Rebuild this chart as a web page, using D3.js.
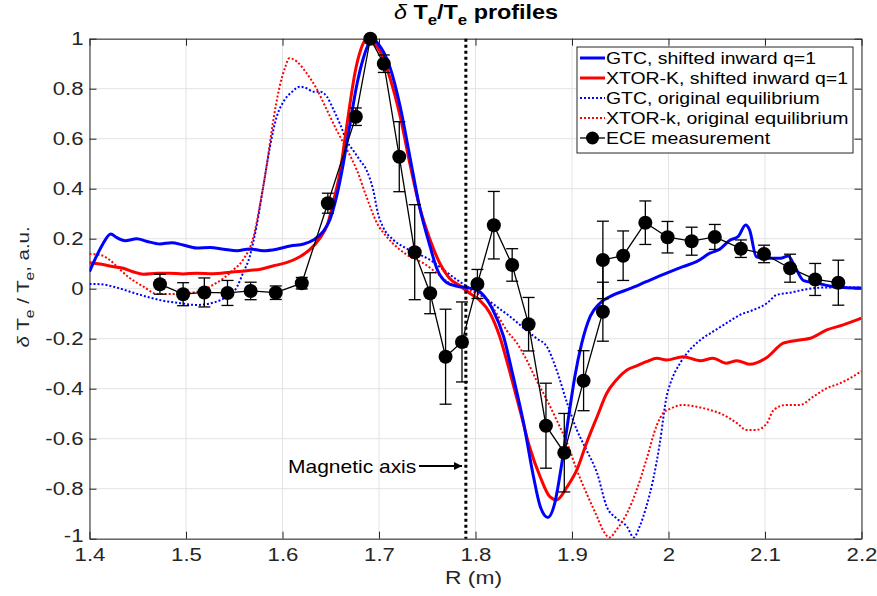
<!DOCTYPE html>
<html>
<head>
<meta charset="utf-8">
<script src="https://cdn.jsdelivr.net/npm/d3@7"></script>
<style>
  html, body { margin: 0; padding: 0; background: #fff; }
  svg { display: block; font-family: "Liberation Sans", Arial, Helvetica, sans-serif; }
</style>
</head>
<body>
<svg id="chart" width="877" height="596"></svg>
<script>
// ---------------- DATA ----------------
const xTicks = [1.4, 1.5, 1.6, 1.7, 1.8, 1.9, 2.0, 2.1, 2.2];
const xTickLabels = ["1.4", "1.5", "1.6", "1.7", "1.8", "1.9", "2", "2.1", "2.2"];
const yTicks = [-1, -0.8, -0.6, -0.4, -0.2, 0, 0.2, 0.4, 0.6, 0.8, 1];
const yTickLabels = ["-1", "-0.8", "-0.6", "-0.4", "-0.2", "0", "0.2", "0.4", "0.6", "0.8", "1"];

const seriesNames = [
  "GTC, shifted inward q=1",
  "XTOR-K, shifted inward q=1",
  "GTC, original equilibrium",
  "XTOR-k, original equilibrium",
  "ECE measurement"
];

// GTC, shifted inward q=1  [R, dTe/Te]
const gtcShifted = [
  [1.400,0.068],[1.407,0.128],[1.414,0.180],[1.422,0.219],[1.428,0.205],[1.437,0.192],
  [1.449,0.200],[1.459,0.190],[1.473,0.179],[1.485,0.184],[1.497,0.175],[1.511,0.163],
  [1.525,0.165],[1.539,0.158],[1.553,0.152],[1.566,0.159],[1.580,0.152],[1.594,0.158],
  [1.608,0.171],[1.622,0.179],[1.632,0.195],[1.642,0.228],[1.649,0.275],[1.656,0.368],
  [1.663,0.500],[1.670,0.660],[1.677,0.815],[1.684,0.925],[1.690,0.985],[1.694,1.000],
  [1.699,0.980],[1.705,0.945],[1.711,0.890],[1.722,0.728],[1.732,0.528],[1.742,0.328],
  [1.753,0.168],[1.760,0.080],[1.770,0.025],[1.781,0.010],[1.791,0.004],[1.801,-0.005],
  [1.808,-0.025],[1.818,-0.085],[1.829,-0.190],[1.839,-0.350],[1.850,-0.540],[1.860,-0.750],
  [1.867,-0.870],[1.875,-0.915],[1.882,-0.860],[1.889,-0.710],[1.896,-0.525],[1.903,-0.350],
  [1.910,-0.220],[1.919,-0.110],[1.929,-0.058],[1.943,-0.025],[1.960,0.000],[1.977,0.028],
  [1.998,0.062],[2.015,0.088],[2.029,0.108],[2.043,0.142],[2.053,0.158],[2.064,0.195],
  [2.072,0.208],[2.080,0.255],[2.084,0.235],[2.091,0.128],[2.102,0.122],[2.116,0.122],
  [2.124,0.131],[2.131,0.088],[2.140,0.032],[2.154,0.022],[2.171,0.008],[2.185,0.004],
  [2.200,0.003]
];

// XTOR-K, shifted inward q=1
const xtorShifted = [
  [1.400,0.104],[1.411,0.099],[1.425,0.088],[1.435,0.082],[1.445,0.068],[1.456,0.058],
  [1.470,0.062],[1.483,0.062],[1.497,0.059],[1.511,0.062],[1.528,0.060],[1.546,0.066],
  [1.563,0.072],[1.577,0.078],[1.590,0.091],[1.604,0.104],[1.618,0.128],[1.628,0.155],
  [1.638,0.198],[1.647,0.262],[1.654,0.368],[1.660,0.475],[1.665,0.608],[1.670,0.742],
  [1.675,0.862],[1.681,0.955],[1.685,0.990],[1.689,1.000],[1.694,0.985],[1.701,0.950],
  [1.711,0.848],[1.722,0.688],[1.732,0.500],[1.742,0.328],[1.753,0.195],[1.763,0.102],
  [1.773,0.042],[1.784,0.011],[1.794,-0.018],[1.804,-0.045],[1.815,-0.098],[1.825,-0.190],
  [1.835,-0.325],[1.846,-0.485],[1.856,-0.632],[1.867,-0.752],[1.877,-0.832],[1.884,-0.845],
  [1.895,-0.792],[1.905,-0.725],[1.915,-0.618],[1.926,-0.512],[1.936,-0.418],[1.946,-0.365],
  [1.957,-0.325],[1.967,-0.309],[1.977,-0.292],[1.988,-0.278],[1.998,-0.285],[2.015,-0.272],
  [2.033,-0.288],[2.046,-0.278],[2.060,-0.298],[2.071,-0.288],[2.084,-0.302],[2.102,-0.275],
  [2.119,-0.218],[2.136,-0.205],[2.147,-0.198],[2.164,-0.165],[2.181,-0.145],[2.200,-0.118]
];

// GTC, original equilibrium
const gtcOriginal = [
  [1.400,0.019],[1.411,0.018],[1.425,0.008],[1.442,-0.012],[1.459,-0.032],[1.476,-0.048],
  [1.494,-0.058],[1.511,-0.065],[1.528,-0.056],[1.542,-0.032],[1.553,0.008],[1.559,0.062],
  [1.566,0.128],[1.573,0.248],[1.580,0.408],[1.587,0.568],[1.594,0.688],[1.601,0.748],
  [1.610,0.788],[1.618,0.808],[1.625,0.802],[1.632,0.788],[1.639,0.788],[1.646,0.768],
  [1.653,0.715],[1.660,0.655],[1.667,0.588],[1.673,0.555],[1.680,0.515],[1.687,0.475],
  [1.694,0.395],[1.699,0.300],[1.704,0.248],[1.715,0.195],[1.725,0.168],[1.739,0.142],
  [1.753,0.115],[1.767,0.075],[1.781,0.035],[1.794,0.002],[1.808,-0.032],[1.822,-0.072],
  [1.836,-0.112],[1.850,-0.158],[1.863,-0.198],[1.874,-0.232],[1.884,-0.325],[1.895,-0.458],
  [1.905,-0.565],[1.915,-0.645],[1.926,-0.738],[1.936,-0.872],[1.946,-0.918],[1.957,-0.952],
  [1.964,-0.995],[1.970,-0.952],[1.977,-0.872],[1.984,-0.765],[1.991,-0.618],[1.998,-0.432],
  [2.002,-0.378],[2.012,-0.298],[2.022,-0.245],[2.033,-0.205],[2.046,-0.172],[2.060,-0.138],
  [2.074,-0.105],[2.088,-0.085],[2.102,-0.058],[2.112,-0.025],[2.126,-0.016],[2.143,-0.002],
  [2.164,0.005],[2.185,0.005],[2.200,0.005]
];

// XTOR-k, original equilibrium
const xtorOriginal = [
  [1.400,0.139],[1.411,0.135],[1.421,0.115],[1.432,0.075],[1.442,0.042],[1.456,0.008],
  [1.470,-0.021],[1.483,-0.021],[1.501,-0.018],[1.518,-0.005],[1.528,0.015],[1.539,0.042],
  [1.549,0.075],[1.559,0.115],[1.570,0.208],[1.577,0.342],[1.584,0.502],[1.590,0.662],
  [1.597,0.808],[1.603,0.888],[1.607,0.922],[1.615,0.908],[1.625,0.862],[1.635,0.802],
  [1.646,0.715],[1.656,0.635],[1.667,0.555],[1.677,0.475],[1.687,0.368],[1.698,0.262],
  [1.708,0.208],[1.718,0.168],[1.732,0.128],[1.746,0.102],[1.760,0.062],[1.773,0.022],
  [1.787,0.002],[1.801,-0.018],[1.812,-0.045],[1.822,-0.100],[1.832,-0.165],[1.843,-0.218],
  [1.853,-0.285],[1.863,-0.365],[1.874,-0.445],[1.884,-0.525],[1.895,-0.618],[1.905,-0.725],
  [1.915,-0.818],[1.926,-0.912],[1.932,-0.965],[1.939,-0.995],[1.946,-0.965],[1.957,-0.898],
  [1.967,-0.805],[1.977,-0.685],[1.988,-0.545],[1.995,-0.495],[2.002,-0.480],[2.015,-0.465],
  [2.029,-0.472],[2.043,-0.485],[2.057,-0.505],[2.071,-0.538],[2.081,-0.565],[2.091,-0.565],
  [2.102,-0.538],[2.109,-0.485],[2.122,-0.465],[2.136,-0.465],[2.150,-0.432],[2.164,-0.398],
  [2.178,-0.378],[2.200,-0.330]
];

// ECE measurement [R, value, error]
const eceR =   [1.473, 1.497, 1.519, 1.543, 1.567, 1.593, 1.620, 1.647, 1.676, 1.691, 1.705, 1.721,
                1.737, 1.753, 1.769, 1.786, 1.802, 1.819, 1.838, 1.855, 1.873, 1.892, 1.912, 1.932,
                1.932, 1.953, 1.976, 1.999, 2.024, 2.048, 2.075, 2.099, 2.126, 2.152, 2.176];
const eceVal = [0.018, -0.022, -0.015, -0.017, -0.009, -0.016, 0.022, 0.342, 0.688, 1.000, 0.900, 0.528,
                0.146, -0.018, -0.272, -0.213, 0.019, 0.254, 0.095, -0.142, -0.548, -0.656, -0.368, -0.092,
                0.115, 0.132, 0.264, 0.206, 0.190, 0.207, 0.160, 0.139, 0.082, 0.037, 0.024];
const eceErr = [0.040, 0.046, 0.058, 0.050, 0.035, 0.027, 0.023, 0.040, 0.035, 0.000, 0.035, 0.140,
                0.190, 0.082, 0.190, 0.160, 0.058, 0.135, 0.065, 0.107, 0.170, 0.157, 0.120, 0.118,
                0.155, 0.099, 0.087, 0.063, 0.056, 0.050, 0.035, 0.035, 0.056, 0.064, 0.090];

const magneticAxisR = 1.79;

// ---------------- DRAW ----------------
const svg = d3.select("#chart");
const plot = { left: 89.5, right: 861.5, top: 38.7, bottom: 538.7 };
const x = d3.scaleLinear().domain([1.4, 2.2]).range([plot.left, plot.right]);
const y = d3.scaleLinear().domain([-1, 1]).range([plot.bottom, plot.top]);

const FONT = '"Liberation Sans", Arial, Helvetica, sans-serif';
const SX = 1.2; // horizontal text stretch to match reference glyph widths
const TXT = "#262626";

svg.append("defs").append("clipPath").attr("id", "clip")
  .append("rect").attr("x", plot.left).attr("y", plot.top - 2)
  .attr("width", plot.right - plot.left).attr("height", plot.bottom - plot.top + 4);

// grid
const grid = svg.append("g");
grid.selectAll("line.gx").data(xTicks).join("line")
  .attr("x1", d => x(d)).attr("x2", d => x(d)).attr("y1", plot.top).attr("y2", plot.bottom)
  .attr("stroke", "#e3e3e3").attr("stroke-width", 1);
grid.selectAll("line.gy").data(yTicks).join("line")
  .attr("x1", plot.left).attr("x2", plot.right).attr("y1", d => y(d)).attr("y2", d => y(d))
  .attr("stroke", "#e3e3e3").attr("stroke-width", 1);

// axes (inward ticks on all sides)
const tickLen = 7;
const axB = svg.append("g").attr("transform", `translate(0,${plot.bottom})`)
  .call(d3.axisBottom(x).tickValues(xTicks).tickFormat((d, i) => xTickLabels[i]).tickSizeInner(-tickLen).tickSizeOuter(0).tickPadding(9));
const axT = svg.append("g").attr("transform", `translate(0,${plot.top})`)
  .call(d3.axisTop(x).tickValues(xTicks).tickFormat("").tickSizeInner(-tickLen).tickSizeOuter(0));
const axL = svg.append("g").attr("transform", `translate(${plot.left},0)`)
  .call(d3.axisLeft(y).tickValues(yTicks).tickFormat((d, i) => yTickLabels[i]).tickSizeInner(-tickLen).tickSizeOuter(0).tickPadding(5));
const axR = svg.append("g").attr("transform", `translate(${plot.right},0)`)
  .call(d3.axisRight(y).tickValues(yTicks).tickFormat("").tickSizeInner(-tickLen).tickSizeOuter(0));
[axB, axT, axL, axR].forEach(a => {
  a.select(".domain").attr("stroke", TXT).attr("stroke-width", 1);
  a.selectAll(".tick line").attr("stroke", TXT).attr("stroke-width", 1);
  a.selectAll(".tick text").attr("font-family", FONT).attr("font-size", 18.5).attr("fill", TXT)
    .attr("transform", `scale(${SX},1)`);
});
// lift the lowest y label slightly so it does not collide with the first x label
axL.selectAll(".tick").filter(d => d === -1).select("text").attr("y", -3);

// curves
const g = svg.append("g").attr("clip-path", "url(#clip)");
const line = d3.line().x(d => x(d[0])).y(d => y(d[1])).curve(d3.curveMonotoneX);

g.append("path").datum(gtcOriginal).attr("d", line).attr("fill", "none")
  .attr("stroke", "#0000ff").attr("stroke-width", 2).attr("stroke-dasharray", "2,2");
g.append("path").datum(xtorOriginal).attr("d", line).attr("fill", "none")
  .attr("stroke", "#ff0000").attr("stroke-width", 2).attr("stroke-dasharray", "2,2");
g.append("path").datum(xtorShifted).attr("d", line).attr("fill", "none")
  .attr("stroke", "#ff0000").attr("stroke-width", 3);
g.append("path").datum(gtcShifted).attr("d", line).attr("fill", "none")
  .attr("stroke", "#0000ff").attr("stroke-width", 3);

// magnetic axis
svg.append("line")
  .attr("x1", x(magneticAxisR)).attr("x2", x(magneticAxisR))
  .attr("y1", plot.top).attr("y2", plot.bottom)
  .attr("stroke", "#000").attr("stroke-width", 3).attr("stroke-dasharray", "3,3");

// ECE measurement
const ece = eceR.map((r, i) => ({ r, v: eceVal[i], e: eceErr[i] }));
const eceG = svg.append("g");
eceG.append("path").datum(ece)
  .attr("d", d3.line().x(d => x(d.r)).y(d => y(d.v)))
  .attr("fill", "none").attr("stroke", "#000").attr("stroke-width", 1.3);
const eb = eceG.selectAll("g.eb").data(ece.filter(d => d.e > 0)).join("g");
eb.append("line").attr("x1", d => x(d.r)).attr("x2", d => x(d.r))
  .attr("y1", d => y(d.v + d.e)).attr("y2", d => y(d.v - d.e))
  .attr("stroke", "#000").attr("stroke-width", 1.3);
eb.append("line").attr("x1", d => x(d.r) - 6).attr("x2", d => x(d.r) + 6)
  .attr("y1", d => y(d.v + d.e)).attr("y2", d => y(d.v + d.e))
  .attr("stroke", "#000").attr("stroke-width", 1.3);
eb.append("line").attr("x1", d => x(d.r) - 6).attr("x2", d => x(d.r) + 6)
  .attr("y1", d => y(d.v - d.e)).attr("y2", d => y(d.v - d.e))
  .attr("stroke", "#000").attr("stroke-width", 1.3);
eceG.selectAll("circle").data(ece).join("circle")
  .attr("cx", d => x(d.r)).attr("cy", d => y(d.v)).attr("r", 7).attr("fill", "#000");

// Magnetic axis annotation
svg.append("defs").append("marker").attr("id", "arrow")
  .attr("viewBox", "0 0 10 10").attr("refX", 10).attr("refY", 5)
  .attr("markerWidth", 10).attr("markerHeight", 8).attr("markerUnits", "userSpaceOnUse").attr("orient", "auto")
  .append("path").attr("d", "M0,0 L10,5 L0,10 z").attr("fill", "#000");
svg.append("text").attr("transform", `translate(288,473) scale(${SX},1)`)
  .attr("font-family", FONT).attr("font-size", 17.5).attr("fill", "#000").text("Magnetic axis");
svg.append("line").attr("x1", 419).attr("x2", 462).attr("y1", 466).attr("y2", 466)
  .attr("stroke", "#000").attr("stroke-width", 2).attr("marker-end", "url(#arrow)");

// Title
const title = svg.append("text").attr("transform", `translate(476,19) scale(${SX},1)`).attr("text-anchor", "middle")
  .attr("font-family", FONT).attr("font-size", 19.5).attr("font-weight", "bold").attr("fill", "#000");
title.append("tspan").attr("font-style", "italic").attr("font-weight", "normal").text("δ");
title.append("tspan").text(" T");
title.append("tspan").attr("dy", 6).attr("font-size", 14).text("e");
title.append("tspan").attr("dy", -6).text("/T");
title.append("tspan").attr("dy", 6).attr("font-size", 14).text("e");
title.append("tspan").attr("dy", -6).text(" profiles");

// Y label
const yl = svg.append("text").attr("transform", `translate(29,287) rotate(-90) scale(${SX},1)`)
  .attr("text-anchor", "middle").attr("font-family", FONT).attr("font-size", 17).attr("fill", TXT);
yl.append("tspan").attr("font-style", "italic").text("δ");
yl.append("tspan").text(" T");
yl.append("tspan").attr("dy", 5).attr("font-size", 13).text("e");
yl.append("tspan").attr("dy", -5).text(" / T");
yl.append("tspan").attr("dy", 5).attr("font-size", 13).text("e");
yl.append("tspan").attr("dy", -5).text(", a.u.");

// X label
svg.append("text").attr("transform", `translate(${x(1.8) - 2},584) scale(${SX},1)`).attr("text-anchor", "middle")
  .attr("font-family", FONT).attr("font-size", 19).attr("fill", TXT).text("R (m)");

// Legend
const lg = svg.append("g");
lg.append("rect").attr("x", 577).attr("y", 47).attr("width", 276).attr("height", 106)
  .attr("fill", "#fff").attr("stroke", TXT).attr("stroke-width", 1);
const legendStyles = [
  { c: "#0000ff", w: 3, dash: null, marker: false },
  { c: "#ff0000", w: 3, dash: null, marker: false },
  { c: "#0000ff", w: 2, dash: "2,2", marker: false },
  { c: "#ff0000", w: 2, dash: "2,2", marker: false },
  { c: "#000", w: 1.3, dash: null, marker: true }
];
seriesNames.forEach((name, i) => {
  const yy = 58 + i * 20;
  const s = legendStyles[i];
  lg.append("line").attr("x1", 580).attr("x2", 605).attr("y1", yy).attr("y2", yy)
    .attr("stroke", s.c).attr("stroke-width", s.w).attr("stroke-dasharray", s.dash);
  if (s.marker) lg.append("circle").attr("cx", 592.5).attr("cy", yy).attr("r", 6.5).attr("fill", "#000");
  lg.append("text").attr("transform", `translate(606,${yy + 6}) scale(${SX},1)`)
    .attr("font-family", FONT).attr("font-size", 16.2).attr("fill", "#000").text(name);
});
</script>
</body>
</html>
